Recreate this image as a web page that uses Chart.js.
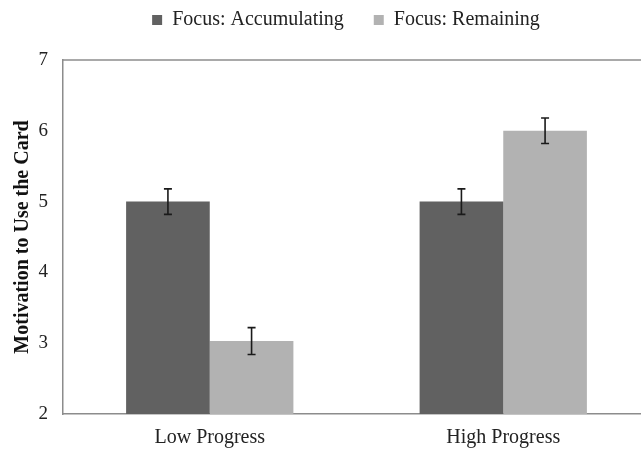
<!DOCTYPE html>
<html>
<head>
<meta charset="utf-8">
<script src="https://cdn.jsdelivr.net/npm/chart.js@4"></script>
<style>
  html, body { margin: 0; padding: 0; background: #fff; overflow: hidden; }
  #chart { display: block; }
</style>
</head>
<body>
<canvas id="chart" width="692" height="450"></canvas>
<script>
// ── Data ─────────────────────────────────────────────────────────────────────
const categories    = ['Low Progress', 'High Progress'];
const seriesNames   = ['Focus: Accumulating', 'Focus: Remaining'];
const accumulating  = [5.0, 5.0];
const remaining     = [3.03, 6.0];
const accumErr      = [0.18, 0.18];
const remainErr     = [0.19, 0.18];
const yTicks        = [2, 3, 4, 5, 6, 7];

// ── Colours ──────────────────────────────────────────────────────────────────
const DARK  = '#616161';
const LIGHT = '#b2b2b2';
const AXIS  = '#8c8c8c';
const FONT  = "'Liberation Serif', 'Times New Roman', serif";

// ── Error bars + top frame line ──────────────────────────────────────────────
const errorBars = {
  id: 'errorBars',
  afterDatasetsDraw(chart) {
    const { ctx } = chart;
    const y = chart.scales.y;
    const errs = [accumErr, remainErr];
    ctx.save();
    ctx.strokeStyle = '#1a1a1a';
    ctx.lineWidth = 1.6;
    chart.data.datasets.forEach((ds, i) => {
      const meta = chart.getDatasetMeta(i);
      meta.data.forEach((bar, j) => {
        const top = y.getPixelForValue(ds.data[j] + errs[i][j]);
        const bot = y.getPixelForValue(ds.data[j] - errs[i][j]);
        const x = bar.x, cap = 4;
        ctx.beginPath();
        ctx.moveTo(x, top); ctx.lineTo(x, bot);
        ctx.moveTo(x - cap, top); ctx.lineTo(x + cap, top);
        ctx.moveTo(x - cap, bot); ctx.lineTo(x + cap, bot);
        ctx.stroke();
      });
    });
    // top edge of the plot frame
    const a = chart.chartArea;
    ctx.strokeStyle = AXIS;
    ctx.lineWidth = 1.5;
    ctx.beginPath();
    ctx.moveTo(a.left, a.top); ctx.lineTo(a.right, a.top);
    ctx.stroke();
    ctx.restore();
  },
};

// ── Chart ────────────────────────────────────────────────────────────────────
const ctx = document.getElementById('chart').getContext('2d');
new Chart(ctx, {
  type: 'bar',
  data: {
    labels: categories,
    datasets: [
      { label: seriesNames[0], data: accumulating, backgroundColor: DARK },
      { label: seriesNames[1], data: remaining,    backgroundColor: LIGHT },
    ],
  },
  options: {
    responsive: false,
    animation: false,
    categoryPercentage: 0.57,
    barPercentage: 1,
    layout: { padding: { top: -20, bottom: 0, left: 0, right: 0 } },
    plugins: {
      legend: {
        position: 'top',
        labels: {
          color: '#222',
          font: { family: FONT, size: 20 },
          boxWidth: 10,
          boxHeight: 10,
          padding: 30,
        },
      },
      tooltip: { enabled: false },
    },
    scales: {
      x: {
        grid: { display: false, drawTicks: false },
        border: { display: true, color: AXIS, width: 1.5 },
        ticks: { color: '#222', font: { family: FONT, size: 20 }, padding: 12 },
        afterFit: s => { s.height = 36; },
      },
      xPad: {
        position: 'top',
        display: true,
        grid: { display: false, drawTicks: false },
        border: { display: false },
        ticks: { display: false },
        afterFit: s => { s.height = 20; },
      },
      y: {
        min: 2,
        max: 7,
        afterBuildTicks: s => { s.ticks = yTicks.map(v => ({ value: v })); },
        grid: { display: false, drawTicks: false },
        border: { display: true, color: AXIS, width: 1.5 },
        ticks: { color: '#222', font: { family: FONT, size: 19 }, padding: 15 },
        title: {
          display: true,
          text: 'Motivation to Use the Card',
          color: '#111',
          font: { family: FONT, size: 20, weight: 'bold' },
          padding: { top: 11, bottom: 0 },
        },
        afterFit: s => { s.width = 63; },
      },
      yPad: {
        position: 'right',
        display: true,
        grid: { display: false, drawTicks: false },
        border: { display: false },
        ticks: { display: false },
        afterFit: s => { s.width = 42; },
      },
    },
  },
  plugins: [errorBars],
});
</script>
</body>
</html>
